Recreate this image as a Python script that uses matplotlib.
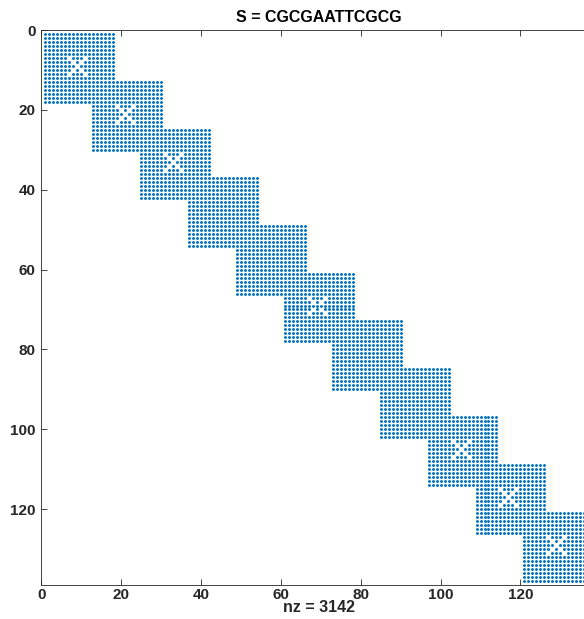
import numpy as np
import matplotlib
matplotlib.use("Agg")
import matplotlib.pyplot as plt

# Sequence and its dinucleotide steps
sequence = "CGCGAATTCGCG"
steps = [sequence[i:i + 2] for i in range(len(sequence) - 1)]
palindromic_steps = ["CG", "GC", "AT", "TA"]

# Block layout: 6 base-pair coordinates + 6 junction coordinates per step
block_size = 18
block_step = 12

# Vanishing couplings (local row, col inside an 18x18 block) for palindromic steps
hole_rows = [6, 6, 7, 7, 8, 9, 9, 10, 10]
hole_cols = [6, 10, 7, 9, 8, 7, 9, 6, 10]
# the AT step keeps its central coupling
at_keep = (8, 8)

n = block_step * len(steps) + (block_size - block_step)
S = np.zeros((n, n), dtype=bool)
for k, st in enumerate(steps):
    o = k * block_step
    S[o:o + block_size, o:o + block_size] = True
for k, st in enumerate(steps):
    if st in palindromic_steps:
        o = k * block_step
        for r, c in zip(hole_rows, hole_cols):
            if st == "AT" and (r, c) == at_keep:
                continue
            S[o + r, o + c] = False

rows, cols = np.nonzero(S)
nz = len(rows)

text_color = "#262626"
plt.rcParams["font.family"] = ["Liberation Sans", "DejaVu Sans"]
plt.rcParams["font.weight"] = "bold"

W, H = 584, 619
fig = plt.figure(figsize=(W / 100, H / 100), dpi=100)
x0, ytop, ybot = 41.3, 30.0, 585.0
ppu = (ybot - ytop) / (n + 1)
ax = fig.add_axes([x0 / W, 1 - ybot / H, (n + 1) * ppu / W, (ybot - ytop) / H])

dots, = ax.plot(cols + 1, rows + 1, linestyle="none", marker="o", markersize=2.1,
                markeredgewidth=0, color="#0072BD")
dots.set_snap(False)

ax.set_xlim(0, n + 1)
ax.set_ylim(n + 1, 0)
ax.set_xticks(np.arange(0, n + 1, 20))
ax.set_yticks(np.arange(0, n + 1, 20))
ax.tick_params(direction="in", length=4, width=0.6, colors=text_color,
               labelsize=11, top=True, right=True)
ax.tick_params(axis="x", pad=2)
ax.tick_params(axis="y", pad=4)
for lab in ax.get_xticklabels() + ax.get_yticklabels():
    lab.set_fontweight("bold")
for sp in ax.spines.values():
    sp.set_color(text_color)
    sp.set_linewidth(0.6)

ax.set_title(f"S = {sequence}", fontsize=11.5, fontweight="bold",
             color="black", pad=6)
ax.set_xlabel(f"nz = {nz}", fontsize=11.5, fontweight="bold",
              color=text_color, labelpad=-1)

fig.savefig("out.png", dpi=100)
